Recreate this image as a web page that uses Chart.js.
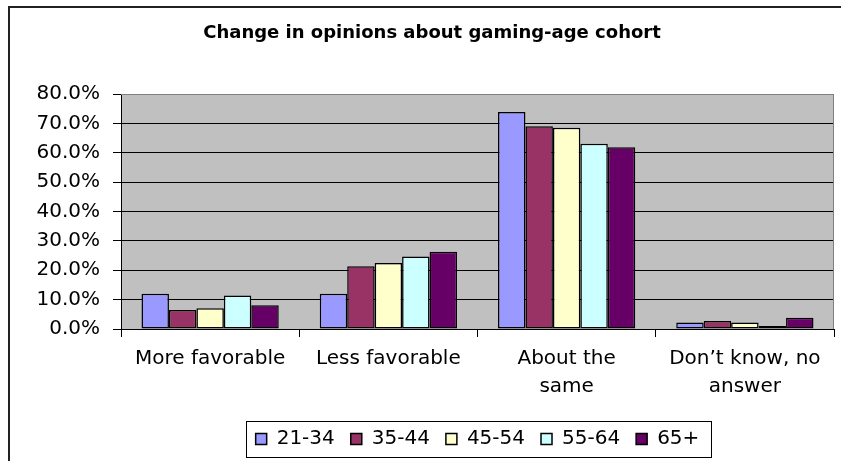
<!DOCTYPE html>
<html>
<head>
<meta charset="utf-8">
<title>Change in opinions about gaming-age cohort</title>
<script src="https://cdn.jsdelivr.net/npm/chart.js@4/dist/chart.umd.min.js"></script>
<style>
    html, body { margin: 0; padding: 0; background: #fff; overflow: hidden; }
    #wrap { position: relative; width: 841px; height: 461px; }
</style>
</head>
<body>
<div id="wrap"><canvas id="opinionChart"></canvas></div>
<script>
(function () {
    "use strict";

    const categories = [
        ["More favorable"],
        ["Less favorable"],
        ["About the", "same"],
        ["Don\u2019t know, no", "answer"]
    ];
    const seriesNames = ["21-34", "35-44", "45-54", "55-64", "65+"];
    const seriesColors = ["#9999FF", "#993366", "#FFFFCC", "#CCFFFF", "#660066"];

    // percent of respondents
    const age21to34 = [12.0, 12.0, 73.9, 2.2];
    const age35to44 = [6.5, 21.4, 69.0, 2.7];
    const age45to54 = [7.1, 22.5, 68.5, 2.2];
    const age55to64 = [11.4, 24.7, 63.1, 1.0];
    const age65plus = [8.1, 26.3, 61.9, 3.8];
    const seriesValues = [age21to34, age35to44, age45to54, age55to64, age65plus];

    const yTicks = { min: 0, max: 80, step: 10 };

    const fontFamily = "'DejaVu Sans', 'Liberation Sans', sans-serif";
    Chart.defaults.font.family = fontFamily;
    Chart.defaults.color = "#000";

    const frameTop = 7;
    const frameLeft = 9;
    const plotLeft = 121;

    const framePlugin = {
        id: "excelFrame",
        beforeDraw(chart) {
            const { ctx, chartArea } = chart;
            ctx.save();
            ctx.fillStyle = "#fff";
            ctx.fillRect(0, 0, chart.width, chart.height);
            // outer chart border, running off the right and bottom edges
            ctx.strokeStyle = "#222";
            ctx.lineWidth = 2;
            ctx.strokeRect(frameLeft, frameTop, chart.width + 20, chart.height + 20);
            // grey plot area
            ctx.fillStyle = "#C0C0C0";
            ctx.fillRect(chartArea.left, chartArea.top, chartArea.right - chartArea.left, chartArea.bottom - chartArea.top);
            ctx.restore();
        },
        beforeDatasetsDraw(chart) {
            const { ctx, chartArea } = chart;
            ctx.save();
            ctx.strokeStyle = "#808080";
            ctx.lineWidth = 1;
            ctx.beginPath();
            ctx.moveTo(chartArea.left, Math.round(chartArea.top) + 0.5);
            ctx.lineTo(Math.round(chartArea.right) - 0.5, Math.round(chartArea.top) + 0.5);
            ctx.lineTo(Math.round(chartArea.right) - 0.5, chartArea.bottom);
            ctx.stroke();
            ctx.restore();
        },
        afterDraw(chart) {
            const boxes = chart.legend && chart.legend.legendHitBoxes;
            if (!boxes || !boxes.length) return;
            const first = boxes[0];
            const last = boxes[boxes.length - 1];
            const midY = first.top + first.height / 2;
            const left = Math.round(first.left - 10) + 0.5;
            const right = Math.round(last.left + last.width + 12) + 0.5;
            const { ctx } = chart;
            ctx.save();
            ctx.strokeStyle = "#000";
            ctx.lineWidth = 1;
            ctx.strokeRect(left, Math.round(midY - 18) + 0.5, right - left, 36);
            ctx.restore();
        }
    };

    function buildDatasets() {
        return seriesNames.map((name, i) => ({
            label: name,
            data: seriesValues[i],
            backgroundColor: seriesColors[i],
            borderColor: "#000",
            borderWidth: 1.5,
            borderSkipped: false,
            categoryPercentage: 0.77,
            barPercentage: 1.0
        }));
    }

    new Chart(document.getElementById("opinionChart"), {
        type: "bar",
        data: {
            labels: categories,
            datasets: buildDatasets()
        },
        plugins: [framePlugin],
        options: {
            responsive: true,
            maintainAspectRatio: false,
            animation: false,
            devicePixelRatio: 1,
            layout: { padding: { left: 30, right: 7, top: 0, bottom: 2 } },
            plugins: {
                title: {
                    display: true,
                    text: "Change in opinions about gaming-age cohort",
                    color: "#000",
                    font: { size: 18, weight: "bold", family: fontFamily },
                    padding: { top: 23, bottom: 49.4 }
                },
                legend: {
                    position: "bottom",
                    fullSize: false,
                    labels: {
                        boxWidth: 11,
                        boxHeight: 11,
                        padding: 16,
                        color: "#000",
                        font: { size: 20, family: fontFamily, lineHeight: 1 }
                    }
                },
                tooltip: { enabled: false }
            },
            scales: {
                x: {
                    offset: true,
                    afterFit(scale) { scale.height = 84; },
                    grid: {
                        offset: true,
                        drawOnChartArea: false,
                        drawTicks: true,
                        tickLength: 8,
                        color: "#000"
                    },
                    border: { color: "#000", width: 1 },
                    ticks: {
                        padding: 8,
                        maxRotation: 0,
                        autoSkip: false,
                        color: "#000",
                        font: { size: 20, family: fontFamily, lineHeight: 1.4 }
                    }
                },
                y: {
                    min: yTicks.min,
                    max: yTicks.max,
                    afterFit(scale) { scale.width = plotLeft - 30; },
                    grid: {
                        color: (context) => (context.tick && context.tick.value === yTicks.max ? "#808080" : "#000"),
                        tickColor: "#000",
                        tickLength: 8,
                        lineWidth: 1
                    },
                    border: { color: "#000", width: 1 },
                    ticks: {
                        stepSize: yTicks.step,
                        padding: 13,
                        color: "#000",
                        font: { size: 20, family: fontFamily },
                        callback: (value) => `${Number(value).toFixed(1)}%`
                    }
                }
            }
        }
    });
}());
</script>
</body>
</html>
